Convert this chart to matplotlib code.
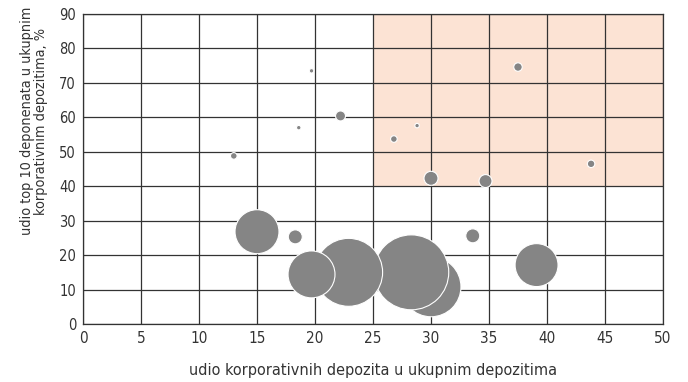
import matplotlib
matplotlib.use("Agg")
import matplotlib.pyplot as plt
from matplotlib.patches import Rectangle
import numpy as np

plt.rcParams["font.family"] = ["DejaVu Sans"]
plt.rcParams["font.stretch"] = "condensed"

# bubble data (draw order kept: large overlapping ones first)
udio_korp = [30.0, 28.3, 22.9, 19.7, 15.0, 39.1, 18.3, 33.6, 13.0, 18.6, 19.7,
             22.2, 26.8, 28.8, 30.0, 34.7, 37.5, 43.8]
udio_top10 = [10.8, 15.0, 15.0, 14.4, 26.8, 17.1, 25.3, 25.6, 48.8, 57.0, 73.5,
              60.4, 53.7, 57.6, 42.3, 41.5, 74.6, 46.5]
velicina = [900, 1406, 1156, 552, 484, 462, 49, 49, 11, 5, 5,
            25, 11, 5, 49, 42, 18, 14]

x_ticks = list(range(0, 51, 5))
y_ticks = list(range(0, 91, 10))

fig = plt.figure(figsize=(6.88, 3.82), dpi=100)
ax = fig.add_axes([83 / 688, 1 - 324 / 382, 580 / 688, 310 / 382])

# shaded risk zone
ax.add_patch(Rectangle((25, 40), 25, 50, facecolor="#fce3d4", edgecolor="none", zorder=0))

ax.set_xlim(0, 50)
ax.set_ylim(0, 90)
ax.set_xticks(x_ticks)
ax.set_yticks(y_ticks)
ax.grid(True, color="#333333", linewidth=0.9, zorder=1)
ax.set_axisbelow(True)
for s in ax.spines.values():
    s.set_color("#333333")
    s.set_linewidth(0.9)
ax.tick_params(length=0, labelsize=10.5, colors="#333333", pad=5)
ax.tick_params(axis="x", labelsize=11)

sizes = np.array(velicina) * 2.07
ax.scatter(udio_korp, udio_top10, s=sizes, c="#858585", edgecolors="white",
           linewidths=0.8, zorder=3)

ax.set_xlabel("udio korporativnih depozita u ukupnim depozitima", fontsize=11.6,
              color="#333333", labelpad=12)
ax.set_ylabel("udio top 10 deponenata u ukupnim\nkorporativnim depozitima, %",
              fontsize=10.4, color="#333333", linespacing=1.05)
ax.yaxis.set_label_coords(-0.06, 0.655)

fig.savefig("out.png", dpi=100)
